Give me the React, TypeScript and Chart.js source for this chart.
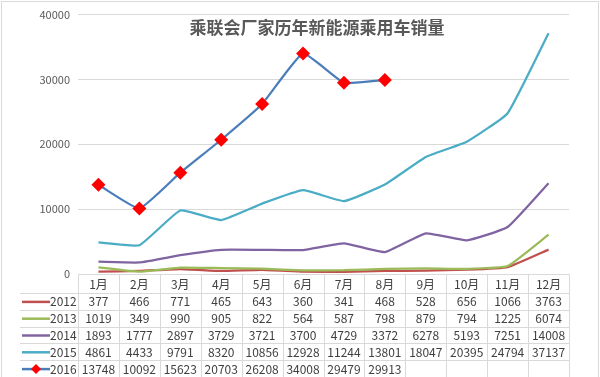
import React, { useEffect, useRef } from "react";
import { Chart, registerables } from "chart.js";

Chart.register(...registerables);

const TITLE = "乘联会厂家历年新能源乘用车销量";
const months = ["1月", "2月", "3月", "4月", "5月", "6月", "7月", "8月", "9月", "10月", "11月", "12月"];
const years = ["2012", "2013", "2014", "2015", "2016"];
const s2012 = [377, 466, 771, 465, 643, 360, 341, 468, 528, 656, 1066, 3763];
const s2013 = [1019, 349, 990, 905, 822, 564, 587, 798, 879, 794, 1225, 6074];
const s2014 = [1893, 1777, 2897, 3729, 3721, 3700, 4729, 3372, 6278, 5193, 7251, 14008];
const s2015 = [4861, 4433, 9791, 8320, 10856, 12928, 11244, 13801, 18047, 20395, 24794, 37137];
const s2016 = [13748, 10092, 15623, 20703, 26208, 34008, 29479, 29913, null, null, null, null];
const yTicks = [0, 10000, 20000, 30000, 40000];
const colors = ["#C0504D", "#9BBB59", "#8064A2", "#4BACC6", "#4A7EBB"];
const markerColor = "#FF0000";

const allSeries = [s2012, s2013, s2014, s2015, s2016];

const FONT = '"Noto Sans CJK SC", "Microsoft YaHei", sans-serif';

const tablePlugin = {
  id: "tablePlugin",
  beforeDraw(chart: any) {
    const { ctx, width, height } = chart;
    ctx.save();
    ctx.fillStyle = "#ffffff";
    ctx.fillRect(0, 0, width, height);
    ctx.strokeStyle = "#d9d9d9";
    ctx.lineWidth = 1;
    ctx.strokeRect(1.5, 1.5, width - 3, height - 1);
    ctx.restore();
  },
  afterDraw(chart: any) {
    const { ctx, chartArea } = chart;
    const xs = chart.scales.x;
    const left = chartArea.left;
    const right = chartArea.right;
    const colW = (right - left) / months.length;
    const top = chartArea.bottom;
    const headerH = 19;
    const rowH = (chart.height - (top + headerH)) / years.length;
    ctx.save();
    // title
    ctx.fillStyle = "#595959";
    ctx.font = `bold 17px ${FONT}`;
    ctx.textAlign = "center";
    ctx.textBaseline = "middle";
    ctx.fillText(TITLE, 317, 28);

    // grid
    ctx.strokeStyle = "#d9d9d9";
    ctx.lineWidth = 1;
    ctx.beginPath();
    ctx.moveTo(left, Math.round(top) + 0.5);
    ctx.lineTo(right, Math.round(top) + 0.5);
    for (let r = 0; r <= years.length; r++) {
      const y = Math.round(top + headerH + r * rowH) + 0.5;
      ctx.moveTo(20, y);
      ctx.lineTo(right, y);
    }
    for (let c = 0; c <= months.length; c++) {
      const x = Math.round(left + c * colW) + 0.5;
      ctx.moveTo(x, top);
      ctx.lineTo(x, chart.height);
    }
    ctx.stroke();

    ctx.fillStyle = "#404040";
    ctx.font = `12px ${FONT}`;
    ctx.textAlign = "center";
    ctx.textBaseline = "middle";
    months.forEach((m, i) => {
      ctx.fillText(m, xs.getPixelForValue(i), top + headerH / 2 + 1);
    });
    years.forEach((yr, r) => {
      const cy = top + headerH + r * rowH + rowH / 2 + 0.5;
      // legend key
      ctx.strokeStyle = colors[r];
      ctx.lineWidth = 2.5;
      ctx.beginPath();
      ctx.moveTo(22, cy);
      ctx.lineTo(50, cy);
      ctx.stroke();
      if (r === 4) {
        ctx.fillStyle = markerColor;
        ctx.beginPath();
        ctx.moveTo(36, cy - 5);
        ctx.lineTo(41, cy);
        ctx.lineTo(36, cy + 5);
        ctx.lineTo(31, cy);
        ctx.closePath();
        ctx.fill();
      }
      ctx.fillStyle = "#404040";
      ctx.textAlign = "left";
      ctx.fillText(yr, 50, cy);
      ctx.textAlign = "center";
      allSeries[r].forEach((v, i) => {
        if (v !== null && v !== undefined) {
          ctx.fillText(String(v), xs.getPixelForValue(i), cy);
        }
      });
    });
    ctx.restore();
  },
};

export default function App() {
  const ref = useRef<HTMLCanvasElement | null>(null);
  useEffect(() => {
    document.body.style.margin = "0";
    const canvas = ref.current;
    if (!canvas) return;
    const chart = new Chart(canvas, {
      type: "line",
      data: {
        labels: months,
        datasets: years.map((y, i) => ({
          label: y,
          data: allSeries[i],
          borderColor: colors[i],
          backgroundColor: i === 4 ? markerColor : colors[i],
          borderWidth: 2.25,
          tension: 0.12,
          pointStyle: "rectRot",
          pointRadius: i === 4 ? 7 : 0,
          pointBorderWidth: 0,
          pointBorderColor: markerColor,
          pointBackgroundColor: markerColor,
          spanGaps: false,
          order: 4 - i,
        })),
      },
      options: {
        responsive: false,
        animation: false,
        layout: { padding: { top: 12, left: 0, right: 31, bottom: 103 } },
        plugins: {
          legend: { display: false },
          title: { display: false },
          tooltip: { enabled: false },
        },
        scales: {
          x: {
            display: false,
            offset: true,
          },
          y: {
            min: 0,
            max: 40000,
            afterFit(scale: any) {
              scale.width = 78;
            },
            afterBuildTicks(scale: any) {
              scale.ticks = yTicks.map((v) => ({ value: v }));
            },
            border: { display: false },
            grid: { color: "#d9d9d9", drawTicks: false, lineWidth: 1 },
            ticks: {
              padding: 8,
              color: "#595959",
              font: { size: 11, family: FONT },
              callback: (v: any) => String(v),
            },
          },
        },
      },
      plugins: [tablePlugin],
    });
    return () => chart.destroy();
  }, []);
  return (
    <div style={{ position: "absolute", left: 0, top: 0, width: 600, height: 377 }}>
      <canvas ref={ref} width={600} height={377} />
    </div>
  );
}
